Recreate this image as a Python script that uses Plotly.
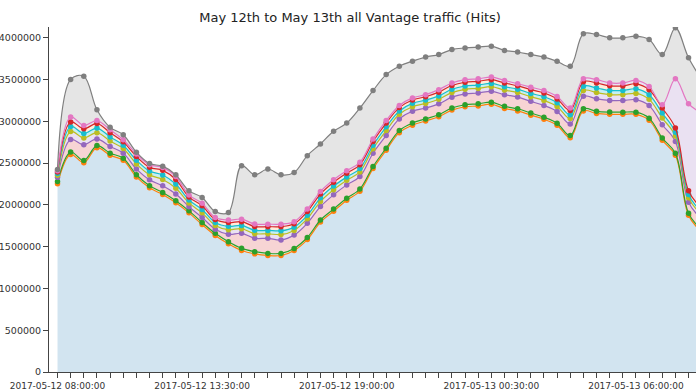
import pandas as pd
import plotly.graph_objects as go

times = pd.date_range("2017-05-12 08:00:00", periods=50, freq="30min")

# values in thousands of hits, bottom to top of the stack
base = [2255, 2605, 2505, 2685, 2595, 2535, 2335, 2205, 2125, 2025,
        1905, 1765, 1635, 1535, 1455, 1415, 1395, 1395, 1455, 1585,
        1795, 1925, 2055, 2165, 2435, 2655, 2865, 2955, 3005, 3055,
        3135, 3175, 3185, 3205, 3155, 3125, 3075, 3025, 2955, 2805,
        3125, 3095, 3085, 3085, 3085, 3015, 2775, 2595, 1875, 1675]
green = [25, 28, 26, 25, 24, 25, 26, 25, 24, 25,
         24, 25, 25, 24, 25, 26, 25, 25, 24, 25,
         25, 26, 25, 25, 24, 25, 25, 26, 25, 25,
         25, 24, 25, 25, 25, 26, 25, 25, 24, 25,
         25, 25, 26, 25, 25, 24, 25, 25, 26, 25]
redband = [50, 150, 190, 80, 80, 60, 70, 70, 80, 80,
           50, 60, 50, 90, 180, 160, 180, 160, 160, 170,
           160, 170, 160, 150, 160, 150, 140, 140, 130, 130,
           130, 130, 130, 130, 140, 140, 140, 140, 140, 140,
           150, 150, 140, 140, 150, 150, 160, 140, 130, 130]
oliveband = [25, 95, 80, 75, 65, 55, 60, 60, 75, 70,
             45, 55, 45, 55, 55, 55, 55, 65, 55, 55,
             60, 60, 55, 55, 55, 60, 55, 55, 55, 55,
             55, 55, 55, 55, 55, 55, 55, 60, 60, 65,
             70, 75, 70, 70, 75, 75, 80, 65, 55, 50]
cyanband = [20, 60, 55, 55, 50, 40, 45, 45, 55, 50,
            35, 40, 35, 40, 40, 40, 40, 45, 40, 40,
            45, 45, 40, 40, 40, 45, 40, 40, 40, 40,
            40, 40, 40, 40, 40, 40, 40, 45, 45, 45,
            50, 55, 50, 50, 55, 55, 60, 45, 40, 35]
redline = [20, 55, 55, 55, 50, 40, 45, 45, 55, 55,
           35, 45, 35, 45, 45, 45, 45, 50, 40, 45,
           45, 45, 45, 45, 45, 45, 40, 40, 40, 45,
           45, 45, 45, 45, 45, 40, 45, 45, 45, 50,
           55, 60, 55, 55, 60, 60, 60, 50, 45, 40]
pinkband = [15, 60, 40, 35, 35, 25, 30, 30, 35, 35,
            25, 30, 25, 30, 30, 30, 30, 30, 25, 30,
            30, 30, 30, 30, 30, 30, 25, 25, 25, 30,
            30, 30, 30, 30, 30, 25, 30, 30, 30, 30,
            35, 40, 35, 35, 40, 40, 40, 590, 1040, 1145]
grayband = [15, 450, 590, 130, 30, 60, 20, 15, 15, 20,
            50, 70, 70, 90, 640, 590, 660, 590, 590, 640,
            570, 580, 570, 650, 580, 550, 470, 440, 450, 420,
            400, 380, 380, 370, 360, 380, 390, 400, 420, 500,
            540, 540, 540, 540, 530, 560, 600, 610, 550, 400]

layers = [
    ("base", base, "#ff7f0e", "rgba(31,119,180,0.2)"),
    ("green", green, "#2ca02c", "rgba(44,160,44,0.15)"),
    ("red", redband, "#9467bd", "rgba(214,39,40,0.2)"),
    ("olive", oliveband, "#bcbd22", "rgba(148,103,189,0.2)"),
    ("cyan", cyanband, "#17becf", "rgba(23,190,207,0.25)"),
    ("redline", redline, "#d62728", "rgba(255,127,14,0.15)"),
    ("pink", pinkband, "#e377c2", "rgba(148,103,189,0.2)"),
    ("gray", grayband, "#7f7f7f", "rgba(127,127,127,0.2)"),
]

fig = go.Figure()
for name, vals, lc, fc in layers:
    fig.add_trace(go.Scatter(
        x=times, y=[v * 1000 for v in vals], name=name,
        mode="lines+markers", stackgroup="one",
        line=dict(color=lc, width=1.2, shape="spline", smoothing=1),
        marker=dict(color=lc, size=5.5),
        fillcolor=fc, showlegend=False,
    ))

fig.update_layout(
    width=696, height=391, autosize=False,
    margin=dict(l=49, r=0, t=27, b=19, autoexpand=False),
    paper_bgcolor="white", plot_bgcolor="white",
    font=dict(family="DejaVu Sans", size=9, color="#333"),
    title=dict(text="May 12th to May 13th all Vantage traffic (Hits)",
               x=0.503, xref="container", y=0.9565, yref="container",
               xanchor="center", yanchor="middle", automargin=False,
               font=dict(family="DejaVu Sans", size=13, color="#222")),
)
fig.update_xaxes(
    range=["2017-05-12 07:40:36", "2017-05-13 08:17:00"],
    tickmode="linear", tick0="2017-05-12 08:00:00", dtick=19800000,
    tickformat="%Y-%m-%d %H:%M:%S", automargin=False, ticklabeloverflow="allow",
    tickfont=dict(size=9), ticks="outside", ticklen=5, tickcolor="#444",
    minor=dict(dtick=1800000, tick0="2017-05-12 08:00:00", ticks="outside", ticklen=5, tickcolor="#444"),
    showline=True, linecolor="#444", linewidth=1, showgrid=False, zeroline=False,
)
fig.update_yaxes(
    range=[0, 4130000], tickmode="linear", tick0=0, dtick=500000,
    tickformat="d", ticks="outside", ticklen=5, tickcolor="#444", automargin=False,
    ticklabeloverflow="allow", tickfont=dict(size=9.5),
    showline=True, linecolor="#444", linewidth=1, showgrid=False, zeroline=False,
)
fig.write_html("out.html", config={"displayModeBar": False},
               post_script="document.body.style.margin='0';document.body.style.overflow='hidden';")
